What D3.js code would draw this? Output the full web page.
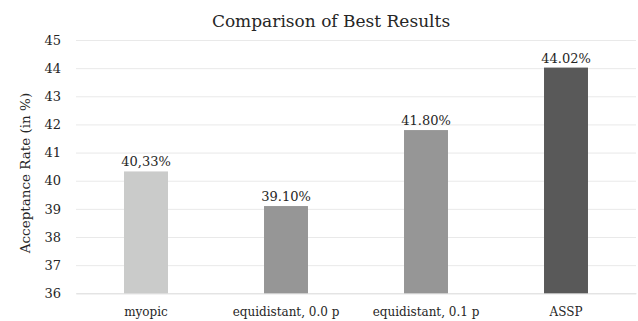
<!DOCTYPE html>
<html>
<head>
<meta charset="utf-8">
<script src="https://cdn.jsdelivr.net/npm/d3@7/dist/d3.min.js"></script>
<style>
  html, body { margin: 0; padding: 0; background: #fff; }
  svg { display: block; }
  text { font-family: "DejaVu Serif", "Liberation Serif", serif; fill: #262626; }
</style>
</head>
<body>
<script>
// Best acceptance rates per strategy
const categories = ["myopic", "equidistant, 0.0 p", "equidistant, 0.1 p", "ASSP"];
const values = [40.33, 39.10, 41.80, 44.02];
const valueLabels = ["40,33%", "39.10%", "41.80%", "44.02%"];
const barColors = ["#cacbca", "#969696", "#969696", "#595959"];
const yTicks = [36, 37, 38, 39, 40, 41, 42, 43, 44, 45];

const width = 638, height = 321;
const plot = { left: 76, right: 636, top: 40, bottom: 293.3 };

const svg = d3.select("body").append("svg")
  .attr("width", width).attr("height", height);

const x = d3.scaleBand()
  .domain(categories)
  .range([plot.left, plot.right])
  .paddingInner(0.686)
  .paddingOuter(0.343);

const y = d3.scaleLinear()
  .domain([36, 45])
  .range([plot.bottom, plot.top]);

// Horizontal gridlines and tick labels
const yAxis = d3.axisLeft(y)
  .tickValues(yTicks)
  .tickSize(-(plot.right - plot.left))
  .tickPadding(15)
  .tickFormat(d3.format("d"));

const gy = svg.append("g")
  .attr("transform", `translate(${plot.left},0)`)
  .call(yAxis);
gy.select(".domain").remove();
gy.selectAll(".tick line").attr("stroke", "#e9e9e9").attr("stroke-width", 1);
gy.selectAll(".tick text")
  .style("font-size", "13px")
  .attr("fill", "#333");

// Category axis
const xAxis = d3.axisBottom(x).tickSize(0).tickPadding(14);
const gx = svg.append("g")
  .attr("transform", `translate(0,${plot.bottom})`)
  .call(xAxis);
gx.select(".domain").attr("stroke", "#e0e0e0");
gx.selectAll(".tick text")
  .style("font-size", "12px")
  .attr("fill", "#333");

// Bars
svg.append("g").selectAll("rect")
  .data(categories)
  .join("rect")
  .attr("x", d => x(d))
  .attr("width", x.bandwidth())
  .attr("y", (d, i) => y(values[i]))
  .attr("height", (d, i) => y(36) - y(values[i]))
  .attr("fill", (d, i) => barColors[i]);

// Value labels above each bar
svg.append("g").selectAll("text")
  .data(categories)
  .join("text")
  .attr("x", d => x(d) + x.bandwidth() / 2)
  .attr("y", (d, i) => y(values[i]) - 5)
  .attr("text-anchor", "middle")
  .style("font-size", "13px")
  .attr("fill", "#333")
  .text((d, i) => valueLabels[i]);

// Title
svg.append("text")
  .attr("x", 331)
  .attr("y", 27)
  .attr("text-anchor", "middle")
  .style("font-size", "17px")
  .attr("fill", "#404040")
  .text("Comparison of Best Results");

// Y axis title
svg.append("text")
  .attr("transform", "translate(30,173) rotate(-90)")
  .attr("text-anchor", "middle")
  .style("font-size", "13.5px")
  .attr("fill", "#404040")
  .text("Acceptance Rate (in %)");
</script>
</body>
</html>
